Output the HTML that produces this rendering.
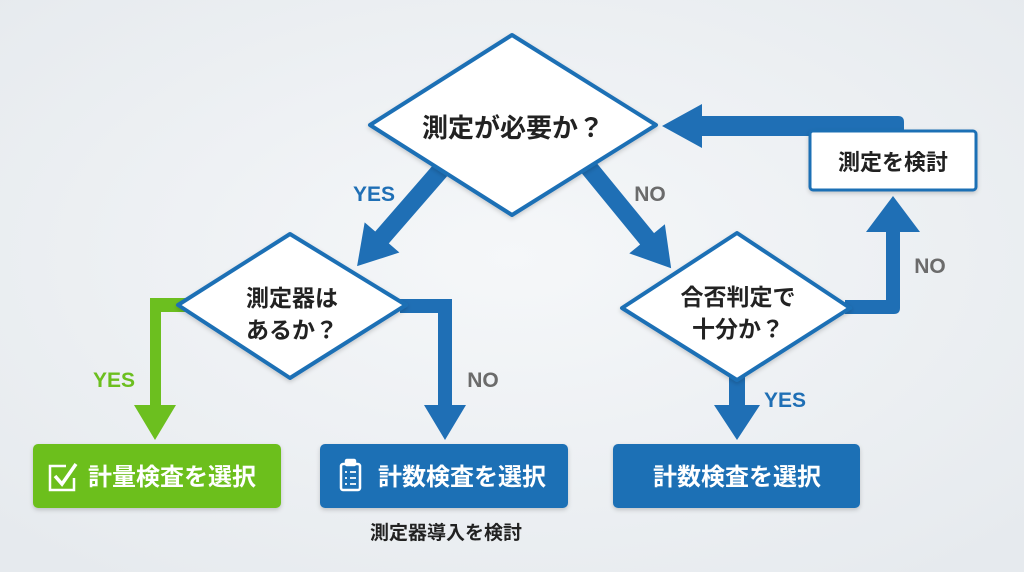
<!DOCTYPE html>
<html><head><meta charset="utf-8"><style>
html,body{margin:0;padding:0;background:#edf0f3;}
svg{display:block}
text{font-family:"Liberation Sans","Noto Sans CJK JP",sans-serif;font-weight:bold;}
</style></head><body>
<svg width="1024" height="572" viewBox="0 0 1024 572" xmlns="http://www.w3.org/2000/svg">
<defs>
<radialGradient id="bg" cx="50%" cy="45%" r="70%"><stop offset="0" stop-color="#f5f7f9"/><stop offset="1" stop-color="#e6eaee"/></radialGradient>
<filter id="sh" x="-10%" y="-10%" width="120%" height="130%"><feDropShadow dx="0" dy="2" stdDeviation="2" flood-color="#000" flood-opacity="0.18"/></filter>
</defs>
<rect width="1024" height="572" fill="url(#bg)"/>

<!-- connectors -->
<g fill="#1f6fb5">
  <!-- YES diagonal -->
  <polygon transform="translate(445,165) rotate(131)" points="0,-9 96,-9 96,-23 134,0 96,23 96,9 0,9"/>
  <!-- NO diagonal -->
  <polygon transform="translate(585,163) rotate(50.7)" points="0,-9 98,-9 98,-23 136,0 98,23 98,9 0,9"/>
  <!-- diamond2 NO -->
  <path d="M400,299 H452 V405 H466 L445,440 L424,405 H438 V313 H400 Z"/>
  <!-- diamond3 YES -->
  <path d="M729,372 H745 V405 H760 L737,440 L714,405 H729 Z"/>
  <!-- diamond3 NO up -->
  <path d="M845,300 H886 V232 H866 L893,196 L920,232 H900 V308 Q900,314 894,314 H845 Z"/>
  <!-- top back arrow -->
  <path d="M904,132 V122 Q904,116 898,116 H702 V104 L662,126 L702,148 V136 H904 Z"/>
</g>
<!-- green YES -->
<path d="M186,298 H150 V405 H134 L155,440 L176,405 H161 V312 H186 Z" fill="#6cbf1f"/>

<!-- diamonds -->
<g fill="#fff" stroke="#1f6fb5" stroke-width="4" stroke-linejoin="round" filter="url(#sh)">
  <polygon points="512,35 656,125 512,215 370,125"/>
  <polygon points="290,234 406,305 290,378 178,305"/>
  <polygon points="737,233 850,308 737,380 622,308"/>
</g>
<rect x="810" y="131" width="166" height="59" rx="3" fill="#fff" stroke="#1f6fb5" stroke-width="3" filter="url(#sh)"/>

<!-- boxes -->
<rect x="33" y="444" width="248" height="64" rx="5" fill="#6cbf1f" filter="url(#sh)"/>
<rect x="320" y="444" width="248" height="64" rx="5" fill="#1f6fb5" filter="url(#sh)"/>
<rect x="613" y="444" width="247" height="64" rx="5" fill="#1f6fb5" filter="url(#sh)"/>

<!-- icons -->
<g fill="none" stroke="#fff" stroke-width="2.5">
  <path d="M66,466 H50 V490 H74 V478"/>
  <path d="M55,476 L62,484 L76,464" stroke-width="3.5"/>
  <rect x="341" y="464" width="19" height="26" rx="2"/>
  <rect x="346" y="460" width="9" height="5" rx="1" fill="#fff"/>
  <path d="M345,472 H347 M350,472 H356 M345,478 H347 M350,478 H356 M345,484 H347 M350,484 H356" stroke-width="1.8"/>
</g>

<!-- text -->
<g fill="#222" text-anchor="middle">
  <text x="513" y="137" font-size="26">測定が必要か？</text>
  <text x="292" y="306" font-size="23">測定器は</text>
  <text x="292" y="338" font-size="23">あるか？</text>
  <text x="738" y="305" font-size="23">合否判定で</text>
  <text x="738" y="337" font-size="23">十分か？</text>
  <text x="893" y="170" font-size="22">測定を検討</text>
  <text x="446" y="539" font-size="19">測定器導入を検討</text>
</g>
<g fill="#fff" font-size="24" text-anchor="middle">
  <text x="172" y="485">計量検査を選択</text>
  <text x="462" y="485">計数検査を選択</text>
  <text x="737" y="485">計数検査を選択</text>
</g>
<g font-size="21" text-anchor="middle">
  <text x="374" y="201" fill="#1f6fb5">YES</text>
  <text x="650" y="201" fill="#6b6b6b">NO</text>
  <text x="114" y="387" fill="#6cbf1f">YES</text>
  <text x="483" y="387" fill="#6b6b6b">NO</text>
  <text x="930" y="273" fill="#6b6b6b">NO</text>
  <text x="785" y="407" fill="#1f6fb5">YES</text>
</g>
</svg>
</body></html>
